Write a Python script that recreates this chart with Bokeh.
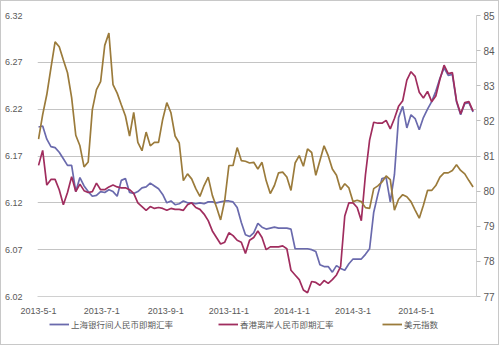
import pandas as pd
from bokeh.plotting import figure
from bokeh.layouts import column
from bokeh.models import (Range1d, LinearAxis, FixedTicker, Legend, LegendItem,
                          PrintfTickFormatter, ColumnDataSource)
from bokeh.embed import file_html
from bokeh.resources import INLINE

# ---------------- data ----------------
dates = pd.date_range("2013-05-01", periods=106, freq="4D")

cny_onshore = [6.201, 6.202, 6.188, 6.180, 6.179, 6.174, 6.167, 6.160, 6.160, 6.132,
               6.147, 6.138, 6.132, 6.127, 6.128, 6.132, 6.131, 6.134, 6.132, 6.127,
               6.144, 6.146, 6.131, 6.130, 6.132, 6.136, 6.137, 6.141, 6.138, 6.135,
               6.129, 6.120, 6.122, 6.118, 6.119, 6.122, 6.120, 6.120, 6.119, 6.120,
               6.119, 6.121, 6.121, 6.120, 6.121, 6.122, 6.122, 6.121, 6.115, 6.099,
               6.086, 6.084, 6.088, 6.098, 6.094, 6.092, 6.093, 6.094, 6.093, 6.093,
               6.093, 6.092, 6.071, 6.071, 6.071, 6.071, 6.070, 6.068, 6.054, 6.052,
               6.052, 6.046, 6.053, 6.050, 6.048, 6.055, 6.060, 6.060, 6.060, 6.065,
               6.071, 6.110, 6.129, 6.146, 6.147, 6.121, 6.150, 6.211, 6.223, 6.200,
               6.214, 6.210, 6.198, 6.211, 6.220, 6.228, 6.239, 6.253, 6.264, 6.256,
               6.257, 6.228, 6.214, 6.226, 6.227, 6.217]

cnh_offshore = [6.160, 6.176, 6.139, 6.145, 6.145, 6.134, 6.118, 6.131, 6.148, 6.132,
                6.140, 6.133, 6.131, 6.132, 6.141, 6.134, 6.134, 6.137, 6.139, 6.137,
                6.136, 6.136, 6.134, 6.130, 6.120, 6.116, 6.112, 6.116, 6.114, 6.115,
                6.114, 6.112, 6.114, 6.113, 6.113, 6.112, 6.118, 6.120, 6.115, 6.113,
                6.108, 6.101, 6.090, 6.083, 6.076, 6.078, 6.088, 6.085, 6.080, 6.078,
                6.066, 6.080, 6.083, 6.090, 6.083, 6.070, 6.073, 6.073, 6.073, 6.074,
                6.071, 6.048, 6.043, 6.038, 6.027, 6.024, 6.036, 6.035, 6.032, 6.037,
                6.034, 6.038, 6.043, 6.052, 6.106, 6.120, 6.120, 6.115, 6.101, 6.150,
                6.187, 6.206, 6.205, 6.205, 6.208, 6.199, 6.210, 6.223, 6.229, 6.251,
                6.260, 6.255, 6.238, 6.232, 6.239, 6.228, 6.234, 6.252, 6.267, 6.258,
                6.259, 6.229, 6.215, 6.227, 6.228, 6.218]

usd_index = [81.48, 82.18, 82.75, 83.51, 84.25, 84.11, 83.73, 83.37, 82.66, 81.59,
             81.29, 80.69, 80.83, 82.32, 82.89, 83.12, 84.15, 84.50, 83.03, 82.79,
             82.46, 82.14, 81.57, 82.24, 81.39, 81.15, 81.68, 81.29, 81.39, 81.39,
             82.04, 82.52, 82.23, 81.57, 81.37, 80.30, 80.49, 80.35, 80.07, 79.85,
             80.16, 80.40, 79.88, 79.55, 79.18, 79.74, 80.73, 80.73, 81.24, 80.87,
             80.85, 80.80, 80.82, 80.63, 80.82, 80.30, 79.93, 80.16, 80.52, 80.54,
             80.40, 80.02, 80.80, 81.01, 80.71, 81.20, 81.10, 80.45, 80.87, 81.29,
             81.01, 80.63, 80.45, 80.04, 80.21, 80.09, 79.70, 79.74, 79.70, 79.53,
             79.51, 80.07, 80.15, 80.26, 80.43, 80.33, 79.46, 79.77, 79.90, 79.84,
             79.70, 79.46, 79.23, 79.60, 80.02, 80.02, 80.16, 80.40, 80.52, 80.52,
             80.59, 80.75, 80.59, 80.49, 80.30, 80.12]

series_names = ["上海银行间人民币即期汇率", "香港离岸人民币即期汇率", "美元指数"]
series_colors = ["#6a6aad", "#a02d5e", "#9b7b3b"]

x_tick_dates = ["2013-05-01", "2013-07-01", "2013-09-01", "2013-11-01",
                "2014-01-01", "2014-03-01", "2014-05-01"]
x_tick_labels = ["2013-5-1", "2013-7-1", "2013-9-1", "2013-11-1",
                 "2014-1-1", "2014-3-1", "2014-5-1"]
left_ticks = [6.02, 6.07, 6.12, 6.17, 6.22, 6.27, 6.32]
right_ticks = [77, 78, 79, 80, 81, 82, 83, 84, 85]

# ---------------- main chart ----------------
src = ColumnDataSource(dict(date=dates, cny=cny_onshore, cnh=cnh_offshore, usd=usd_index))

chart = figure(width=497, height=315, x_axis_type="datetime", output_backend="svg",
               toolbar_location=None,
               x_range=Range1d(pd.Timestamp("2013-04-30"), pd.Timestamp("2014-06-28 08:00")),
               y_range=Range1d(6.02, 6.32),
               min_border_left=27, min_border_right=22, min_border_top=14, min_border_bottom=16)
chart.extra_y_ranges = {"usd": Range1d(77, 85)}
chart.outline_line_color = None
chart.background_fill_color = "white"
chart.border_fill_color = "white"

lbl_color = "#595959"
tick_font = "Liberation Sans"

tick_ms = [pd.Timestamp(d).value // 10**6 for d in x_tick_dates]
chart.xaxis.ticker = FixedTicker(ticks=tick_ms)
chart.xaxis.major_label_overrides = {float(t): l for t, l in zip(tick_ms, x_tick_labels)}
chart.xaxis.axis_line_color = "#d0d0d0"
chart.xaxis.major_tick_line_color = None
chart.xaxis.minor_tick_line_color = None
chart.xaxis.major_label_text_font = tick_font
chart.xaxis.major_label_text_font_size = "9px"
chart.xaxis.major_label_text_color = lbl_color
chart.xaxis.major_label_standoff = 5

chart.yaxis.ticker = FixedTicker(ticks=left_ticks)
chart.yaxis.formatter = PrintfTickFormatter(format="%.2f")
chart.yaxis.axis_line_color = None
chart.yaxis.major_tick_line_color = None
chart.yaxis.minor_tick_line_color = None
chart.yaxis.major_label_text_font = tick_font
chart.yaxis.major_label_text_font_size = "9px"
chart.yaxis.major_label_text_color = lbl_color
chart.yaxis.major_label_standoff = 9

rax = LinearAxis(y_range_name="usd", ticker=FixedTicker(ticks=right_ticks))
rax.axis_line_color = "#d0d0d0"
rax.major_tick_line_color = "#c0c0c0"
rax.major_tick_out = 4
rax.major_tick_in = 0
rax.minor_tick_line_color = None
rax.major_label_text_font = tick_font
rax.major_label_text_font_size = "10px"
rax.major_label_text_color = lbl_color
rax.major_label_standoff = 3
chart.add_layout(rax, "right")

chart.xgrid.visible = False
chart.ygrid.grid_line_color = "#c4c4c4"
chart.ygrid.grid_line_width = 1

chart.line("date", "cny", source=src, color=series_colors[0], line_width=1.7)
chart.line("date", "cnh", source=src, color=series_colors[1], line_width=1.7)
chart.line("date", "usd", source=src, color=series_colors[2], line_width=1.7,
           y_range_name="usd")

# ---------------- legend strip ----------------
leg_fig = figure(width=497, height=28, output_backend="svg", toolbar_location=None,
                 x_axis_location=None, y_axis_location=None,
                 x_range=Range1d(0, 1), y_range=Range1d(0, 1),
                 min_border_left=0, min_border_right=0, min_border_top=0, min_border_bottom=0)
leg_fig.outline_line_color = None
leg_fig.background_fill_color = "white"
leg_fig.border_fill_color = "white"
leg_fig.grid.visible = False

items = []
for name, col in zip(series_names, series_colors):
    r = leg_fig.line(x=[float("nan")], y=[float("nan")], color=col, line_width=1.8)
    items.append(LegendItem(label=name, renderers=[r]))

legend = Legend(items=items, orientation="horizontal", location=(12, 14))
legend.label_text_font = "Noto Sans CJK SC"
legend.label_text_font_size = "8.5px"
legend.label_text_color = lbl_color
legend.glyph_width = 20
legend.glyph_height = 12
legend.label_height = 12
legend.label_width = 97
legend.label_standoff = 2
legend.spacing = 45
legend.padding = 0
legend.margin = 0
legend.background_fill_alpha = 0
legend.border_line_color = None
leg_fig.add_layout(legend, "center")

p = column(chart, leg_fig, spacing=0,
           styles={"border": "1px solid #c8c8c8", "background-color": "white"})

open("out.html", "w").write(file_html(p, INLINE))
